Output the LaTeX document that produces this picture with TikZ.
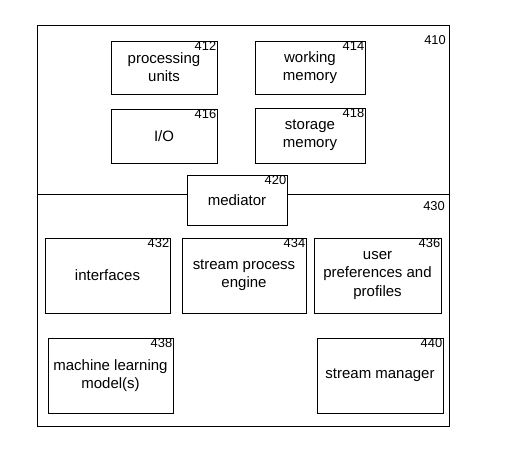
\documentclass[tikz,border=0pt]{standalone}
\usepackage{fontspec}
\setmainfont{Liberation Sans}
\usepackage{tikz}
\usetikzlibrary{positioning}
\tikzset{
  part/.style={rectangle, draw=black, fill=white, inner sep=0pt,
    align=center, font=\fontsize{12.8}{15.6}\selectfont, line width=0.6pt},
  frame/.style={rectangle, draw=black, inner sep=0pt, line width=0.6pt},
  num/.style={inner sep=0.8pt, anchor=north east, font=\fontsize{11}{12}\selectfont},
  line/.style={line width=0.6pt, color=black}
}

\begin{document}
\begin{tikzpicture}[x=0.03cm, y=-0.03cm]
  \useasboundingbox (0,0) rectangle (508,451);

  % Outer frame
  \node[frame, minimum width=12.36cm, minimum height=12.03cm] (device) at (243,225.5) {};
  \node[num] (n410) at (447,34) {410};

  % Divider between the two halves
  \coordinate (divl) at (37,194);
  \coordinate (divr) at (449,194);
  \draw[line] (divl) -- (divr);
  \node[num] (n430) at (446,200) {430};

  % Upper half
  \node[part, minimum width=3.18cm, minimum height=1.59cm] (pu) at (164,67.5) {processing\\units};
  \node[part, minimum width=3.3cm, minimum height=1.59cm] (wm) at (310,67.5) {working\\memory};
  \node[part, minimum width=3.18cm, minimum height=1.62cm] (io) at (164,136) {I/O};
  \node[part, minimum width=3.3cm, minimum height=1.65cm] (sm) at (310,135.5) {storage\\memory};

  % Mediator
  \node[part, minimum width=3.0cm, minimum height=1.5cm] (med) at (237,200) {mediator};

  % Lower half
  \node[part, minimum width=3.75cm, minimum height=2.25cm] (intf) at (107.5,275.5) {interfaces};
  \node[part, minimum width=3.72cm, minimum height=2.25cm] (spe) at (244,275.5) {stream process\\engine};
  \node[part, minimum width=3.81cm, minimum height=2.25cm] (upp) at (377.5,275.5) {user\\preferences and\\profiles};
  \node[part, minimum width=3.75cm, minimum height=2.25cm] (mlm) at (110.5,375.5) {machine learning\\model(s)};
  \node[part, minimum width=3.78cm, minimum height=2.25cm] (smgr) at (380,375.5) {stream manager};

  % Reference numbers
  \node[num] (n412) at (pu.north east) {412};
  \node[num] (n414) at (wm.north east) {414};
  \node[num] (n416) at (io.north east) {416};
  \node[num] (n418) at (sm.north east) {418};
  \node[num] (n420) at (med.north east) {420};
  \node[num] (n432) at (intf.north east) {432};
  \node[num] (n434) at (spe.north east) {434};
  \node[num] (n436) at (upp.north east) {436};
  \node[num] (n438) at (mlm.north east) {438};
  \node[num] (n440) at (smgr.north east) {440};
\end{tikzpicture}
\end{document}
